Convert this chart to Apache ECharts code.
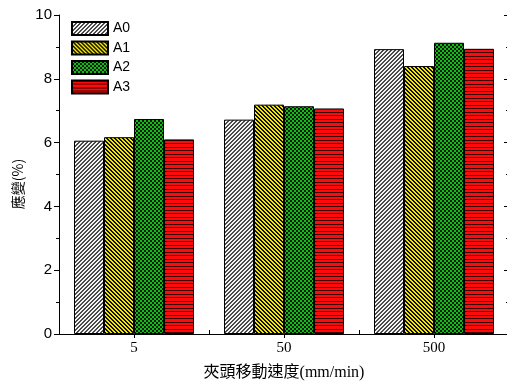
<!DOCTYPE html>
<html>
<head>
<meta charset="utf-8">
<script src="https://cdn.jsdelivr.net/npm/echarts@6/dist/echarts.min.js"></script>
<style>html,body{margin:0;padding:0;background:#fff;}#c{width:507px;height:382px;}</style>
</head>
<body>
<div id="c"></div>
<script>
const categories = ['5', '50', '500'];
const seriesNames = ['A0', 'A1', 'A2', 'A3'];
const A0 = [6.06, 6.72, 8.93];
const A1 = [6.17, 7.19, 8.40];
const A2 = [6.74, 7.14, 9.13];
const A3 = [6.10, 7.07, 8.94];

function makePattern(kind) {
  const c = document.createElement('canvas');
  let w = 4, h = 4;
  if (kind === 'hstripe') { w = 4; h = 7; }
  c.width = w; c.height = h;
  const ctx = c.getContext('2d');
  for (let y = 0; y < h; y++) {
    for (let x = 0; x < w; x++) {
      let col;
      if (kind === 'slash') {
        col = ((x + y) % 4 < 2) ? '#4a4a4a' : '#f4f4f4';
      } else if (kind === 'backslash') {
        col = (((x - y) % 4 + 4) % 4 < 2) ? '#111100' : '#f5e600';
      } else if (kind === 'checker') {
        col = ((Math.floor(x / 2) + Math.floor(y / 2)) % 2) ? '#0a1a0a' : '#10c010';
      } else {
        col = (y === 0 || y === 3) ? '#3a0000' : '#ff0a0a';
      }
      ctx.fillStyle = col;
      ctx.fillRect(x, y, 1, 1);
    }
  }
  return { image: c, repeat: 'repeat' };
}

const patterns = [makePattern('slash'), makePattern('backslash'), makePattern('checker'), makePattern('hstripe')];
const values = [A0, A1, A2, A3];
const SANS = '"Liberation Sans", Arial, sans-serif';
const SERIF = '"Liberation Serif", "Times New Roman", serif';

const chart = echarts.init(document.getElementById('c'), null, { renderer: 'canvas' });
chart.setOption({
  animation: false,
  backgroundColor: '#fff',
  grid: { left: 59, top: 15, right: -2, bottom: 48, containLabel: false, outerBoundsMode: 'none' },
  legend: {
    orient: 'vertical',
    left: 71, top: 21, padding: 0,
    itemWidth: 36, itemHeight: 13, itemGap: 4.5,
    icon: 'rect',
    textStyle: { fontFamily: SANS, fontSize: 14, color: '#000' },
    data: seriesNames
  },
  xAxis: [{
    type: 'category', data: categories, position: 'bottom',
    axisLine: { lineStyle: { color: '#000', width: 1 } },
    axisTick: { show: true, inside: true, length: 4, lineStyle: { color: '#000' } },
    axisLabel: { fontFamily: SERIF, fontSize: 15, color: '#000', margin: 7 },
    name: '夾頭移動速度(mm/min)', nameLocation: 'middle', nameGap: 31,
    nameTextStyle: { fontFamily: '"Liberation Serif", "Noto Sans CJK TC", serif', fontSize: 16, color: '#000' }
  }, {
    type: 'category', data: categories, position: 'top',
    axisLine: { lineStyle: { color: '#000', width: 1 } },
    axisTick: { show: true, inside: true, alignWithLabel: true, length: 4, lineStyle: { color: '#000' } },
    axisLabel: { show: false }
  }],
  yAxis: [{
    type: 'value', min: 0, max: 10, interval: 2, position: 'left',
    axisLine: { show: true, lineStyle: { color: '#000', width: 1 } },
    axisTick: { show: true, inside: false, length: 5, lineStyle: { color: '#000' } },
    minorTick: { show: true, splitNumber: 2, length: 3, lineStyle: { color: '#000' } },
    splitLine: { show: false },
    axisLabel: { fontFamily: SANS, fontSize: 15, color: '#000', margin: 7 },
    name: '應變(%)', nameLocation: 'middle', nameRotate: 90, nameGap: 29,
    nameTextStyle: { fontFamily: '"Noto Sans CJK TC", sans-serif', fontSize: 14, color: '#000', padding: [0, 19, 0, 0] }
  }, {
    type: 'value', min: 0, max: 10, interval: 2, position: 'right',
    axisLine: { show: true, lineStyle: { color: '#000', width: 1 } },
    axisTick: { show: true, inside: true, length: 5, lineStyle: { color: '#000' } },
    minorTick: { show: true, splitNumber: 2, length: 3, lineStyle: { color: '#000' } },
    splitLine: { show: false },
    axisLabel: { show: false }
  }],
  series: seriesNames.map((n, i) => ({
    name: n, type: 'bar', data: values[i],
    xAxisIndex: 0, yAxisIndex: 0,
    barGap: '0%', barCategoryGap: '20%',
    itemStyle: { color: patterns[i], borderColor: '#000', borderWidth: 1 }
  }))
});
</script>
</body>
</html>
